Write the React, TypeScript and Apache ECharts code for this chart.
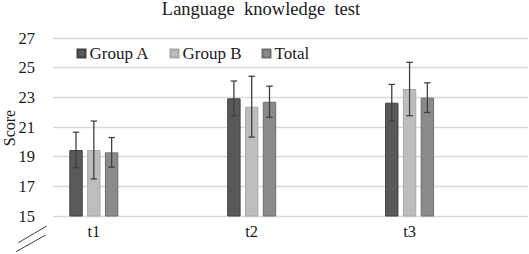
import React, { useEffect, useRef } from "react";
import * as echarts from "echarts";

const categories = ["t1", "t2", "t3"];
const seriesNames = ["Group A", "Group B", "Total"];
const groupA = [19.45, 22.93, 22.64];
const groupB = [19.45, 22.37, 23.56];
const total = [19.29, 22.7, 22.98];
const errA = [1.2, 1.17, 1.23];
const errB = [1.95, 2.05, 1.8];
const errTotal = [1.0, 1.05, 1.0];
const yTicks = [15, 17, 19, 21, 23, 25, 27];
const yName = "Score";

const FONT = "'Liberation Serif', 'Times New Roman', serif";
const BAR_W = 13.4;
const BAR_GAP_PX = 4.4;
const fills = ["#595959", "#bdbdbd", "#8a8a8a"];
const borders = ["#404040", "#a8a8a8", "#6e6e6e"];

export default function App() {
  const ref = useRef<HTMLDivElement>(null);
  useEffect(() => {
    if (!ref.current) return;
    const chart = echarts.init(ref.current, undefined, { renderer: "svg" });
    const values = [groupA, groupB, total];
    const errs = [errA, errB, errTotal];
    const barSeries = values.map((vals, i) => ({
      name: seriesNames[i],
      type: "bar",
      xAxisIndex: 1,
      yAxisIndex: 1,
      data: vals,
      barWidth: BAR_W,
      barGap: (BAR_GAP_PX / BAR_W) * 100 + "%",
      itemStyle: { color: fills[i], borderColor: borders[i], borderWidth: 1 },
      z: 2,
    }));
    const errSeries = values.map((vals, i) => ({
      type: "custom",
      xAxisIndex: 1,
      yAxisIndex: 1,
      z: 5,
      silent: true,
      data: vals.map((v, k) => [k, v - errs[i][k], v + errs[i][k]]),
      renderItem: (params: any, api: any) => {
        const off = (i - 1) * (BAR_W + BAR_GAP_PX);
        const lo = api.coord([api.value(0), api.value(1)]);
        const hi = api.coord([api.value(0), api.value(2)]);
        const x = lo[0] + off;
        const cw = 3.2;
        const st = { stroke: "#404040", lineWidth: 1.3 };
        return {
          type: "group",
          children: [
            { type: "line", shape: { x1: x, y1: lo[1], x2: x, y2: hi[1] }, style: st },
            { type: "line", shape: { x1: x - cw, y1: lo[1], x2: x + cw, y2: lo[1] }, style: st },
            { type: "line", shape: { x1: x - cw, y1: hi[1], x2: x + cw, y2: hi[1] }, style: st },
          ],
        };
      },
    }));
    chart.setOption({
      animation: false,
      title: {
        text: "Language  knowledge  test",
        left: 261,
        textAlign: "center",
        top: -1,
        padding: 0,
        textStyle: { fontFamily: FONT, fontSize: 18.5, fontWeight: "normal", color: "#1a1a1a" },
      },
      legend: {
        data: seriesNames,
        left: 76.5,
        top: 45,
        padding: 0,
        itemWidth: 8,
        itemHeight: 8,
        itemGap: 20,
        icon: "rect",
        textStyle: { fontFamily: FONT, fontSize: 17, color: "#1a1a1a", padding: [0, 0, 0, -1] },
      },
      grid: [
        { left: 53, right: 1, top: 38, bottom: 38 },
        { left: 14.9, right: 40.5, top: 38, bottom: 38 },
      ],
      xAxis: [
        { type: "category", gridIndex: 0, data: categories, show: false },
        {
          type: "category",
          gridIndex: 1,
          data: categories,
          axisLine: { show: false },
          axisTick: { show: false },
          axisLabel: { fontFamily: FONT, fontSize: 16.5, color: "#1a1a1a", margin: 7 },
        },
      ],
      yAxis: [
        {
          type: "value",
          gridIndex: 0,
          min: yTicks[0],
          max: yTicks[yTicks.length - 1],
          interval: 2,
          axisLine: { show: false },
          axisTick: { show: false },
          axisLabel: { fontFamily: FONT, fontSize: 16.5, color: "#1a1a1a", margin: 18 },
          splitLine: { lineStyle: { color: "#d9d9d9", width: 1.3 } },
        },
        {
          type: "value",
          gridIndex: 1,
          min: yTicks[0],
          max: yTicks[yTicks.length - 1],
          interval: 2,
          show: false,
          splitLine: { show: false },
        },
      ],
      graphic: [
        {
          type: "text",
          x: 9,
          y: 128,
          rotation: Math.PI / 2,
          style: {
            text: yName,
            fontFamily: FONT,
            fontSize: 16,
            fill: "#1a1a1a",
            align: "center",
            verticalAlign: "middle",
          },
        },
        { type: "line", shape: { x1: 18.3, y1: 242.7, x2: 46.7, y2: 226 }, style: { stroke: "#404040", lineWidth: 1 } },
        { type: "line", shape: { x1: 16, y1: 251.7, x2: 45.7, y2: 235 }, style: { stroke: "#404040", lineWidth: 1 } },
      ],
      series: [...barSeries, ...errSeries],
    });
    return () => chart.dispose();
  }, []);
  return <div ref={ref} style={{ width: 529, height: 254, position: "absolute", left: 0, top: 0 }} />;
}
